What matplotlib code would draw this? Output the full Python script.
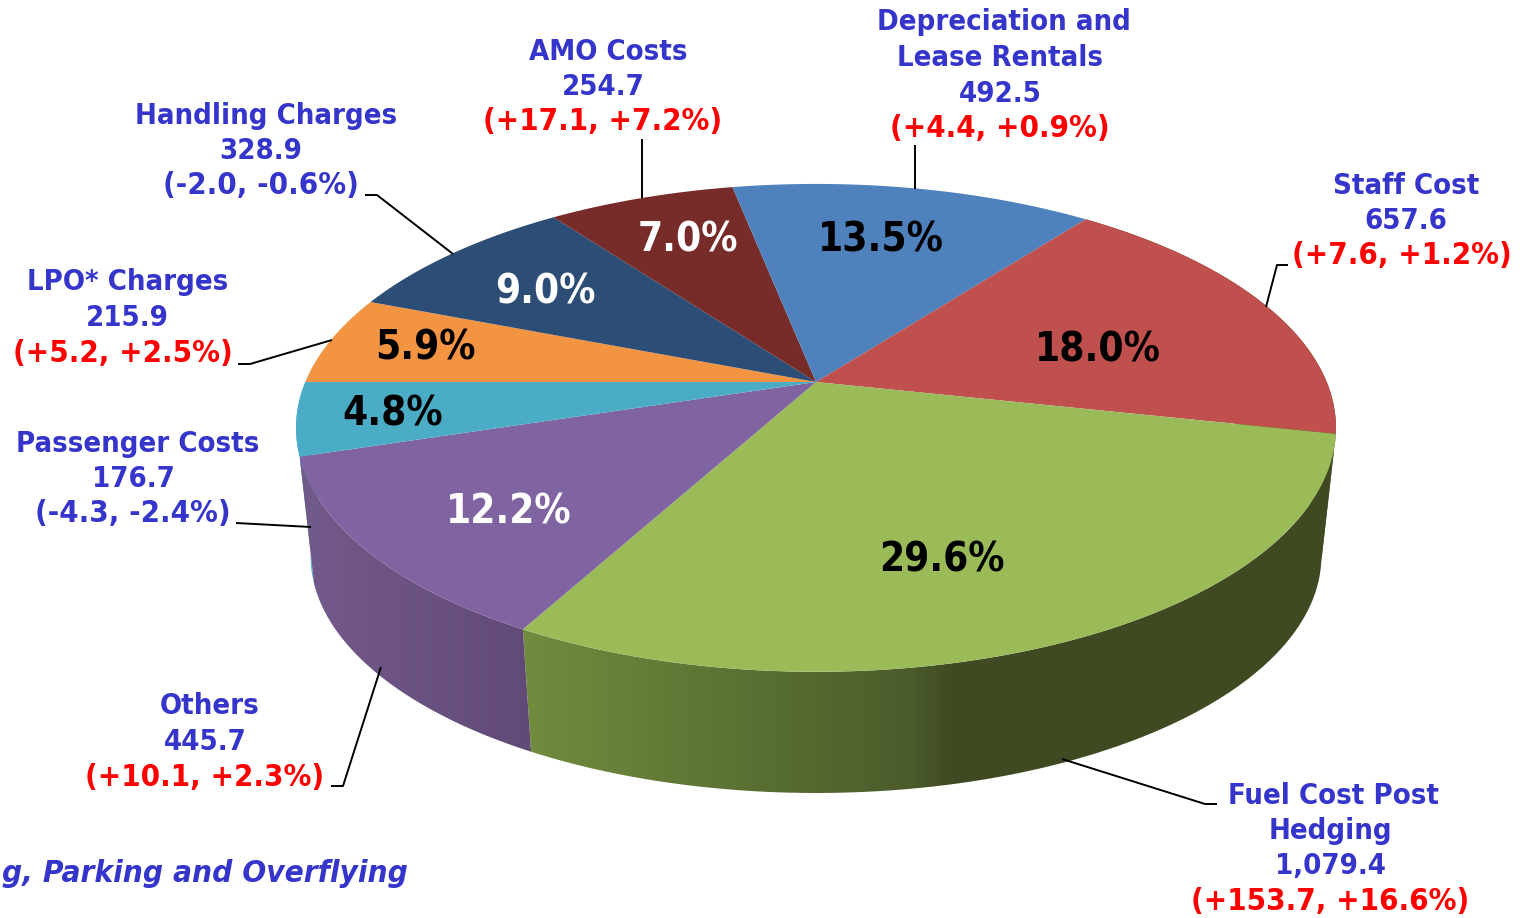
import numpy as np
import matplotlib
matplotlib.use("Agg")
import matplotlib.pyplot as plt
from matplotlib.colors import LinearSegmentedColormap
from matplotlib.patches import Polygon

plt.rcParams["font.family"] = "DejaVu Sans"
plt.rcParams["font.weight"] = "bold"
plt.rcParams["font.stretch"] = "condensed"

# clockwise from the LPO / Passenger boundary (9 o'clock)
names = [["LPO* Charges"], ["Handling Charges"], ["AMO Costs"],
         ["Depreciation and", "Lease Rentals"], ["Staff Cost"],
         ["Fuel Cost Post", "Hedging"], ["Others"], ["Passenger Costs"]]
values = [215.9, 328.9, 254.7, 492.5, 657.6, 1079.4, 445.7, 176.7]
changes = ["(+5.2, +2.5%)", "(-2.0, -0.6%)", "(+17.1, +7.2%)", "(+4.4, +0.9%)",
           "(+7.6, +1.2%)", "(+153.7, +16.6%)", "(+10.1, +2.3%)", "(-4.3, -2.4%)"]
colors = ["#f39443", "#2c4d75", "#772c2a", "#4f81bd",
          "#c0504d", "#9bbb59", "#8064a2", "#4bacc6"]
pct_colors = ["black", "white", "white", "black", "black", "black", "white", "black"]

# layout, pixels of the 1520x918 picture
pct_pos = [(425, 349), (545, 293), (688, 241), (881, 241),
           (1098, 350), (942, 561), (509, 512), (393, 415)]
label_x = [[128, 127, 123], [266, 261, 261], [608, 603, 603], [1004, 1000, 1000, 1000],
           [1406, 1406, 1402], [1334, 1330, 1330, 1330], [210, 205, 205], [138, 133, 133]]
label_y = [290.5, 123.5, 59.5, 30.5, 193.5, 803.5, 714.5, 451.5]
leaders = [[(238, 364), (250, 364), (332, 340)],
           [(365, 195), (377, 195), (453, 254)],
           [(642, 139), (642, 198)],
           [(915, 145), (915, 189)],
           [(1288, 265), (1277, 265), (1266, 307)],
           [(1062, 759), (1205, 804), (1217, 804)],
           [(331, 786), (343, 786), (381, 667)],
           [(236, 523), (311, 527)]]

BLUE = "#3535cc"
CX, CY = 816, 382   # apex of the pie
A, B, K = 510.7, 235.3, 0.188   # perspective of the top disc
VY, SHRINK = 5000, 0.028   # the base is the top pulled toward a far vanishing point


def top_point(deg):
    t = np.radians(deg)
    w = 1 + K * np.sin(t)
    return CX + A * np.cos(t) / w, CY - B * np.sin(t) / w


def base_point(deg):
    x, y = top_point(deg)
    return x + SHRINK * (CX - x), y + SHRINK * (VY - y)


fig = plt.figure(figsize=(15.2, 9.18), dpi=100)
ax = fig.add_axes([0, 0, 1, 1])

edges = 180 - 360 * np.cumsum([0] + values) / sum(values)


def wall(start, end, stops, zorder):
    deg = np.linspace(start, end, 120)
    xt, yt = top_point(deg)
    xb, yb = base_point(deg)
    pts = np.r_[np.c_[xt, yt], np.c_[xb, yb][::-1]]
    cmap = LinearSegmentedColormap.from_list("w", stops)
    x0, x1 = pts[:, 0].min(), pts[:, 0].max()
    im = ax.imshow(np.linspace(0, 1, 256)[None, :], cmap=cmap, aspect="auto", zorder=zorder,
                   extent=(x0, x1, pts[:, 1].max(), pts[:, 1].min()))
    im.set_clip_path(Polygon(pts, transform=ax.transData))


# side walls, only the front half shows
wall(edges[5], edges[4], ["#3f4a22", "#3f4a22"], 1)    # staff sliver
wall(edges[8], edges[7], ["#4bacc6", "#4bacc6"], 1)    # passenger sliver
wall(edges[6], edges[5], [(0, "#718c3f"), (0.33, "#566b30"), (0.48, "#4b5b2b"),
                          (0.53, "#3f4a22"), (1, "#3f4a22")], 2)
wall(edges[7], edges[6], ["#735a8c", "#624a77"], 2)

for i, color in enumerate(colors):
    deg = np.linspace(edges[i], edges[i + 1], 120)
    x, y = top_point(deg)
    ax.fill(np.r_[CX, x], np.r_[CY, y], color=color, lw=0, zorder=3)

for pts in leaders:
    ax.plot(*zip(*pts), color="black", lw=1.4, zorder=4, solid_capstyle="butt")

for v, pos, c in zip(values, pct_pos, pct_colors):
    ax.text(pos[0], pos[1], f"{v / sum(values) * 100:.1f}%", color=c, fontsize=29,
            ha="center", va="center", zorder=5)

for name, v, change, xs, y0 in zip(names, values, changes, label_x, label_y):
    lines = name + [f"{v:,.1f}", change]
    for j, (line, x) in enumerate(zip(lines, xs)):
        last = j == len(lines) - 1
        red = last and change.startswith("(+")
        ax.text(x, y0 + j * 35.5, line, color="#ff0000" if red else BLUE,
                fontsize=22.3 if last else 21, ha="center", va="baseline")

ax.text(408, 882, "g, Parking and Overflying", color=BLUE, fontsize=22.6,
        fontstyle="oblique", ha="right", va="baseline")

ax.set_xlim(0, 1520)
ax.set_ylim(918, 0)
ax.axis("off")
fig.savefig("out.png", dpi=100)
